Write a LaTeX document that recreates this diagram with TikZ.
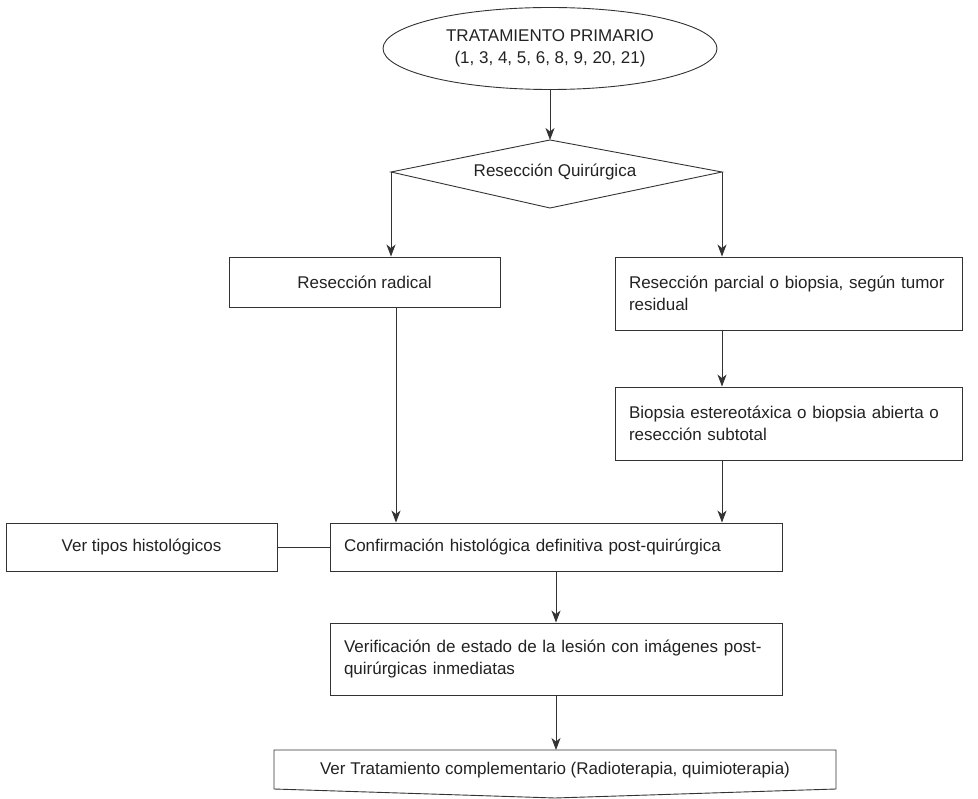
\documentclass[tikz,border=0pt]{standalone}
\usepackage{fontspec}
\setmainfont{Liberation Sans}
\usetikzlibrary{shapes.geometric,arrows.meta,calc}
\definecolor{inkline}{HTML}{333333}
\definecolor{inktext}{HTML}{222222}
\begin{document}
\begin{tikzpicture}[x=1pt,y=-1pt,
  every node/.style={font=\fontsize{17}{22}\selectfont, text=inktext},
  box/.style={draw=inkline, line width=0.9pt, inner sep=0pt, rectangle},
  arr/.style={draw=inkline, line width=0.9pt, -{Stealth[length=12pt,width=9pt,inset=3.5pt]}},
  ln/.style={draw=inkline, line width=0.9pt}]
\useasboundingbox (0,0) rectangle (978,799);

% start ellipse
\node[draw=inkline, line width=0.9pt, ellipse, minimum width=334pt, minimum height=82pt, inner sep=0pt, align=center] (ell) at (550,48.5) {TRATAMIENTO PRIMARIO\\(1, 3, 4, 5, 6, 8, 9, 20, 21)};

% decision diamond
\coordinate (dT) at (550,140);
\coordinate (dR) at (722,172);
\coordinate (dB) at (550,208);
\coordinate (dL) at (391,172);
\draw[ln] (dT) -- (dR) -- (dB) -- (dL) -- cycle;
\node (dtext) at (555,172) {Resección Quirúrgica};

% boxes
\node[box, minimum width=271pt, minimum height=50pt] (rad) at (364.5,282) {Resección radical};
\node[box, minimum width=347pt, minimum height=73pt, text width=319pt, inner xsep=14pt, align=left] (par) at (788.5,293.5) {\makebox[319pt][s]{Resección parcial o biopsia, según tumor}\\residual};
\node[box, minimum width=347pt, minimum height=73pt, text width=319pt, inner xsep=14pt, align=left] (bio) at (788.5,423.5) {\makebox[319pt][s]{Biopsia estereotáxica o biopsia abierta o}\\resección subtotal};
\node[box, minimum width=452pt, minimum height=48pt, text width=424pt, inner xsep=14pt, align=left] (conf) at (556,547) {Confirmación histológica definitiva post-quirúrgica};
\node[box, minimum width=271pt, minimum height=48pt] (ver) at (141.5,547) {Ver tipos histológicos};
\node[box, minimum width=452pt, minimum height=72pt, text width=424pt, inner xsep=14pt, align=left] (verif) at (556,659) {\makebox[424pt][s]{Verificación de estado de la lesión con imágenes post-}\\quirúrgicas inmediatas};

% final document shape
\coordinate (fTL) at (274,750);
\coordinate (fTR) at (836,750);
\coordinate (fBR) at (836,789);
\coordinate (fBM) at (555,798);
\coordinate (fBL) at (274,789);
\draw[ln] (fTL) -- (fTR) -- (fBR) -- (fBM) -- (fBL) -- cycle;
\node (ftext) at (555,770) {Ver Tratamiento complementario (Radioterapia, quimioterapia)};

% connectors
\draw[arr] (ell.south) -- (dT);
\draw[arr] (dL) -- (dL |- rad.north);
\draw[arr] (dR) -- (dR |- par.north);
\draw[arr] (par.south -| dR) -- (bio.north -| dR);
\draw[arr] (bio.south -| dR) -- (conf.north -| dR);
\coordinate (rx) at (396,0);
\draw[arr] (rad.south -| rx) -- (conf.north -| rx);
\draw[ln] (ver.east) -- (conf.west);
\draw[arr] (conf.south) -- (verif.north);
\draw[arr] (verif.south) -- (verif.south |- fTL);
\end{tikzpicture}
\end{document}
